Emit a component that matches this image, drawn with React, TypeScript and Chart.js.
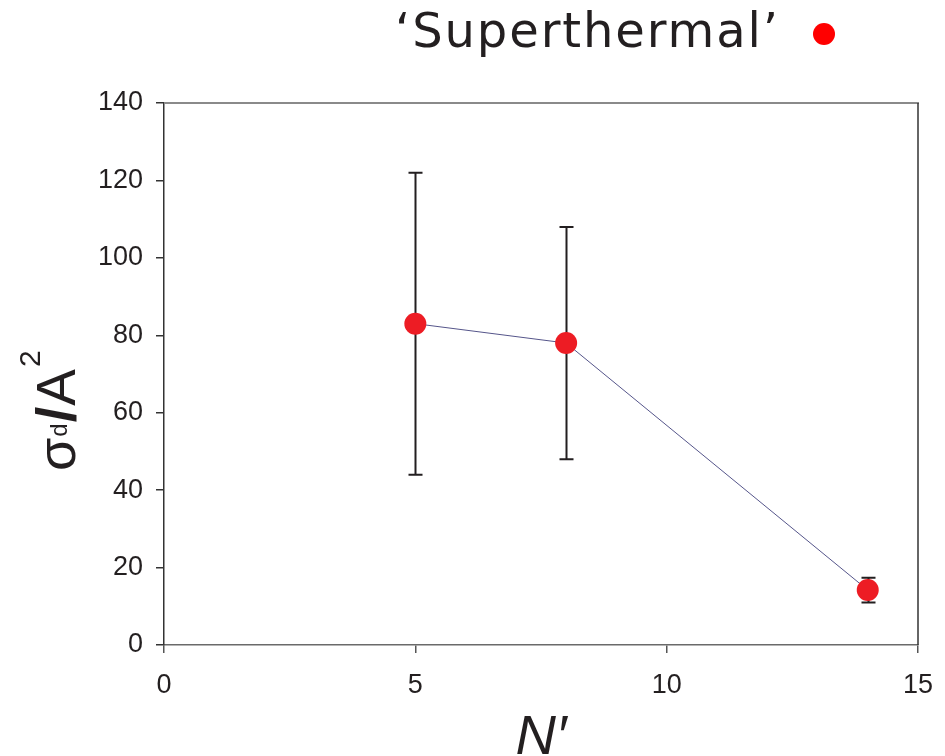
import { useEffect, useRef } from "react";
import { Chart, registerables } from "chart.js";

Chart.register(...registerables);

// Deposition cross-section vs. N' for the 'Superthermal' series
const nPrime = [5, 8, 14];
const sigmaD = [83, 78, 14.2];
const sigmaErr = [39, 30, 3.2];

const xTicks = [0, 5, 10, 15];
const yTicks = [0, 20, 40, 60, 80, 100, 120, 140];

const seriesName = "‘Superthermal’";
const xTitle = "N′";

const INK = "#231f20";
const POINT_RED = "#ed1c24";
const LEGEND_RED = "#ff0000";

const W = 945;
const H = 756;

// Error bars sit behind the markers
const errorBarPlugin = {
  id: "errorBars",
  beforeDatasetsDraw(chart: any) {
    const { ctx, scales } = chart;
    const xs = scales.x;
    const ys = scales.y;
    ctx.save();
    ctx.strokeStyle = INK;
    ctx.lineWidth = 2;
    const cap = 7;
    for (let i = 0; i < nPrime.length; i++) {
      const px = Math.round(xs.getPixelForValue(nPrime[i])) + 0.5;
      const top = ys.getPixelForValue(sigmaD[i] + sigmaErr[i]);
      const bot = ys.getPixelForValue(sigmaD[i] - sigmaErr[i]);
      ctx.beginPath();
      ctx.moveTo(px, top);
      ctx.lineTo(px, bot);
      ctx.moveTo(px - cap, top);
      ctx.lineTo(px + cap, top);
      ctx.moveTo(px - cap, bot);
      ctx.lineTo(px + cap, bot);
      ctx.stroke();
    }
    ctx.restore();
  },
};

// Top and right frame lines of the plot box
const framePlugin = {
  id: "frame",
  beforeDatasetsDraw(chart: any) {
    const { ctx, chartArea } = chart;
    const { left, right, top, bottom } = chartArea;
    ctx.save();
    ctx.strokeStyle = "#8a8a8a";
    ctx.lineWidth = 2;
    ctx.beginPath();
    ctx.moveTo(left, top);
    ctx.lineTo(right + 1, top);
    ctx.stroke();
    ctx.strokeStyle = "#333333";
    ctx.lineWidth = 1.5;
    ctx.beginPath();
    ctx.moveTo(right, top);
    ctx.lineTo(right, bottom);
    ctx.stroke();
    ctx.restore();
  },
};

// Legend entry, axis titles (with sub/superscripts)
const labelPlugin = {
  id: "labels",
  afterDraw(chart: any) {
    const { ctx, chartArea } = chart;
    ctx.save();
    ctx.fillStyle = INK;

    // Legend: text followed by the marker
    ctx.font = "48px 'DejaVu Sans'";
    ctx.textBaseline = "alphabetic";
    ctx.textAlign = "left";
    const natural = ctx.measureText(seriesName).width;
    const spacing = Math.max(0, (383 - natural) / (seriesName.length - 1));
    (ctx as any).letterSpacing = `${spacing}px`;
    ctx.fillText(seriesName, 395, 47);
    (ctx as any).letterSpacing = "0px";
    ctx.fillStyle = LEGEND_RED;
    ctx.beginPath();
    ctx.arc(824, 34, 11, 0, Math.PI * 2);
    ctx.fill();

    // Y title: σ_d / A^2, reading bottom to top
    ctx.fillStyle = INK;
    ctx.save();
    ctx.translate(75, 471);
    ctx.rotate(-Math.PI / 2);
    let cx = 0;
    const parts = [
      { t: "σ", font: "54px 'Liberation Sans'", dy: 0, gap: 1 },
      { t: "d", font: "24px 'Liberation Sans'", dy: -8, gap: 1 },
      { t: "/", font: "bold 56px 'Liberation Sans'", dy: 0, gap: 1 },
      { t: "A", font: "55px 'Liberation Sans'", dy: 0, gap: 2 },
      { t: "2", font: "30px 'Liberation Sans'", dy: -35, gap: 0 },
    ];
    for (const p of parts) {
      ctx.font = p.font;
      ctx.fillText(p.t, cx, p.dy);
      cx += ctx.measureText(p.t).width + p.gap;
    }
    ctx.restore();

    // X title
    ctx.font = "italic 56px 'Liberation Sans'";
    ctx.textAlign = "center";
    ctx.fillText(xTitle, (chartArea.left + chartArea.right) / 2, 754);
    ctx.restore();
  },
};

export default function App() {
  const ref = useRef<HTMLCanvasElement | null>(null);

  useEffect(() => {
    if (!ref.current) return;
    const chart = new Chart(ref.current, {
      type: "line",
      data: {
        datasets: [
          {
            label: seriesName,
            data: nPrime.map((x, i) => ({ x, y: sigmaD[i] })),
            borderColor: "#55558a",
            borderWidth: 1,
            pointRadius: 11,
            pointHoverRadius: 11,
            pointBackgroundColor: POINT_RED,
            pointBorderWidth: 0,
            fill: false,
            tension: 0,
          },
        ],
      },
      options: {
        animation: false,
        responsive: false,
        devicePixelRatio: 1,
        layout: { padding: { top: 103, right: 27, bottom: 0, left: 0 } },
        plugins: {
          legend: { display: false },
          tooltip: { enabled: false },
          title: { display: false },
        },
        scales: {
          x: {
            type: "linear",
            position: "bottom",
            min: 0,
            max: 15,
            afterBuildTicks: (s: any) => {
              s.ticks = xTicks.map((v) => ({ value: v }));
            },
            afterFit: (s: any) => {
              s.height = 111;
              s.paddingLeft = 0;
              s.paddingRight = 0;
            },
            ticks: {
              color: INK,
              font: { family: "'Liberation Sans'", size: 27 },
              padding: 16,
              maxRotation: 0,
            },
            grid: {
              display: true,
              drawOnChartArea: false,
              drawTicks: true,
              tickLength: 8,
              color: "#555555",
              lineWidth: 1.5,
            },
            border: { display: true, color: "#6a6a6a", width: 1.5 },
          },
          y: {
            type: "linear",
            min: 0,
            max: 140,
            afterBuildTicks: (s: any) => {
              s.ticks = yTicks.map((v) => ({ value: v }));
            },
            afterFit: (s: any) => {
              s.width = 164;
              s.paddingTop = 0;
              s.paddingBottom = 0;
            },
            ticks: {
              color: INK,
              font: { family: "'Liberation Sans'", size: 27 },
              padding: 13,
            },
            grid: {
              display: true,
              drawOnChartArea: false,
              drawTicks: true,
              tickLength: 8,
              color: "#333333",
              lineWidth: 1.5,
            },
            border: { display: true, color: "#333333", width: 1.5 },
          },
        },
      },
      plugins: [errorBarPlugin, framePlugin, labelPlugin],
    } as any);
    return () => chart.destroy();
  }, []);

  return (
    <div style={{ position: "fixed", left: 0, top: 0, width: W, height: H, background: "#ffffff" }}>
      <canvas ref={ref} width={W} height={H} style={{ display: "block" }} />
    </div>
  );
}
